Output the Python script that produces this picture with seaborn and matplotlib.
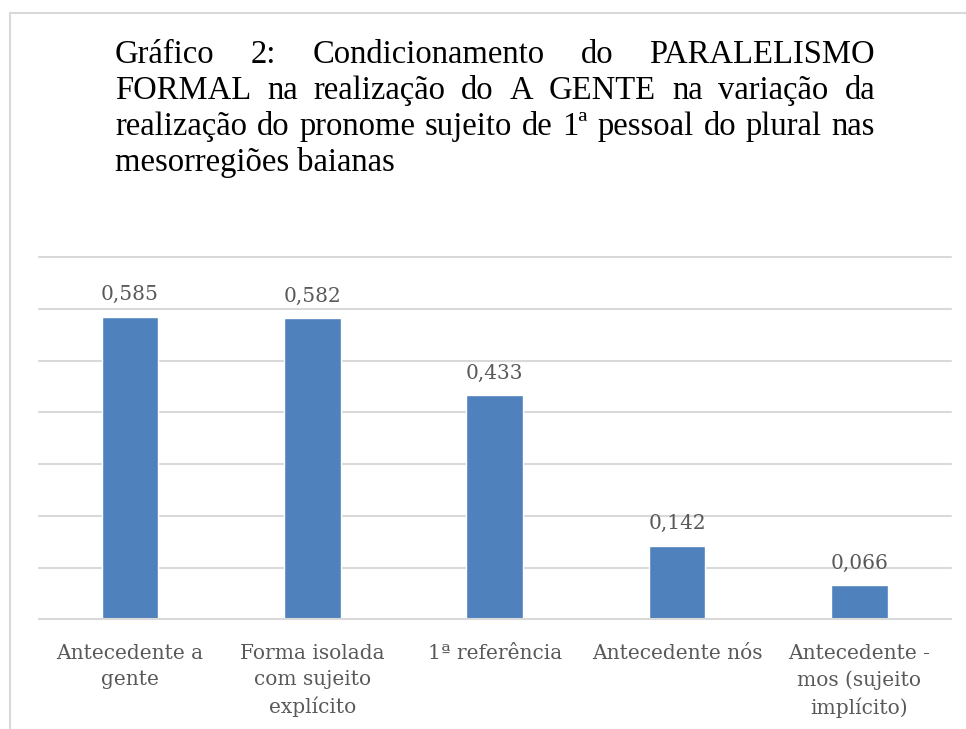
import matplotlib
matplotlib.use("Agg")
import matplotlib.pyplot as plt
from matplotlib.lines import Line2D
import seaborn as sns

# dados
categorias = [
    "Antecedente a\ngente",
    "Forma isolada\ncom sujeito\nexplícito",
    "1ª referência",
    "Antecedente nós",
    "Antecedente -\nmos (sujeito\nimplícito)",
]
pesos = [0.585, 0.582, 0.433, 0.142, 0.066]
rotulos = [f"{v:.3f}".replace(".", ",") for v in pesos]
yticks = [0.1, 0.2, 0.3, 0.4, 0.5, 0.6, 0.7]

titulo_linhas = [
    "Gráfico 2: Condicionamento do PARALELISMO",
    "FORMAL na realização do A GENTE na variação da",
    "realização do pronome sujeito de 1ª pessoal do plural nas",
    "mesorregiões baianas",
]

sns.set_theme(style="white")
plt.rcParams["font.family"] = ["DejaVu Serif"]

W, H = 966, 729
fig = plt.figure(figsize=(W / 100, H / 100), dpi=100)
ax = fig.add_axes([38.8 / W, 1 - 619.3 / H, 911.7 / W, 361.9 / H])

cor_barra = "#4F81BD"
cinza = "#595959"
grade = "#D9D9D9"

sns.barplot(x=categorias, y=pesos, color=cor_barra, width=0.31, ax=ax,
            saturation=1)
ax.bar_label(ax.containers[0], labels=rotulos, padding=9, fontsize=14.5,
             color=cinza)

ax.set_ylim(0, 0.7)
ax.set_xlim(-0.5, len(categorias) - 0.5)
ax.set_yticks(yticks)
ax.yaxis.grid(True, color=grade, linewidth=1.5)
for gl in ax.yaxis.get_gridlines():
    gl.set_clip_on(False)
ax.set_axisbelow(True)
ax.tick_params(axis="y", left=False, labelleft=False)
ax.tick_params(axis="x", length=0, pad=18, labelsize=14.5, labelcolor=cinza)
for lbl in ax.get_xticklabels():
    lbl.set_linespacing(1.45)
ax.set_xlabel("")
ax.set_ylabel("")
for s in ["top", "left", "right"]:
    ax.spines[s].set_visible(False)
ax.spines["bottom"].set_color(grade)
ax.spines["bottom"].set_linewidth(1.5)

# moldura da área do gráfico (cortada à direita e embaixo)
fig.add_artist(Line2D([9.5 / W, 9.5 / W], [1 - 13 / H, 0], color=grade,
                      linewidth=1.5, transform=fig.transFigure))
fig.add_artist(Line2D([9.5 / W, 1], [1 - 13 / H, 1 - 13 / H], color=grade,
                      linewidth=1.5, transform=fig.transFigure))

# título justificado
x0, x1 = 115, 875
base0, passo = 63, 36
fonte_titulo = dict(family=["Liberation Serif"], size=23.5, color="black")
renderer = fig.canvas.get_renderer()
for i, linha in enumerate(titulo_linhas):
    y = 1 - (base0 + passo * i) / H
    if i == len(titulo_linhas) - 1:
        fig.text(x0 / W, y, linha, ha="left", va="baseline", **fonte_titulo)
        continue
    palavras = linha.split(" ")
    textos = [fig.text(0, y, p, ha="left", va="baseline", **fonte_titulo)
              for p in palavras]
    larguras = [t.get_window_extent(renderer).width for t in textos]
    espaco = (x1 - x0 - sum(larguras)) / (len(palavras) - 1)
    x = x0
    for t, w in zip(textos, larguras):
        t.set_x(x / W)
        x += w + espaco

fig.savefig("out.png", dpi=100, facecolor="white")
